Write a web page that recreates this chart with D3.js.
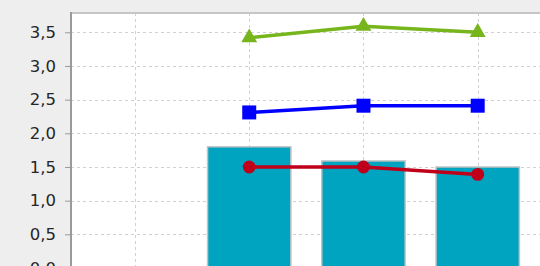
<!DOCTYPE html>
<html>
<head>
<meta charset="utf-8">
<script src="https://cdn.jsdelivr.net/npm/d3@7"></script>
<style>
  html, body { margin: 0; padding: 0; background: #eeeeee; }
  svg { display: block; }
</style>
</head>
<body>
<svg id="chart" width="540" height="266"></svg>
<script>
// ---- data ----
const categories = ["C0", "C1", "C2", "C3"];
const barValues   = [null, 1.80, 1.59, 1.50];
const greenValues = [null, 3.42, 3.59, 3.50];
const blueValues  = [null, 2.31, 2.41, 2.41];
const redValues   = [null, 1.50, 1.50, 1.39];
const yTicks = [0, 0.5, 1.0, 1.5, 2.0, 2.5, 3.0, 3.5];

// ---- layout ----
const W = 540, H = 266;
const plotLeft = 71, plotTop = 13;
const svg = d3.select("#chart");

const y = d3.scaleLinear().domain([0, 3.5]).range([268, 32.3]);
const x = d3.scalePoint().domain(categories).range([135, 477.7]);
const barW = x.step() * 0.73;

// plot background
svg.append("rect").attr("x", plotLeft).attr("y", plotTop)
  .attr("width", W - plotLeft).attr("height", H - plotTop).attr("fill", "#ffffff");

// gridlines
const grid = svg.append("g").attr("stroke", "#d0d0d0").attr("stroke-width", 1)
  .attr("stroke-dasharray", "3,3");
grid.selectAll("line.h").data(yTicks).join("line")
  .attr("x1", plotLeft).attr("x2", W)
  .attr("y1", d => Math.round(y(d)) + 0.5).attr("y2", d => Math.round(y(d)) + 0.5);
grid.selectAll("line.v").data(categories).join("line")
  .attr("x1", d => Math.round(x(d)) + 0.5).attr("x2", d => Math.round(x(d)) + 0.5)
  .attr("y1", plotTop).attr("y2", H);

// bars
const barData = categories.map((c, i) => ({c, v: barValues[i]})).filter(d => d.v != null);
svg.append("g").selectAll("rect").data(barData).join("rect")
  .attr("x", d => x(d.c) - barW / 2)
  .attr("y", d => y(d.v))
  .attr("width", barW)
  .attr("height", d => y(0) - y(d.v))
  .attr("fill", "#00a3c0")
  .attr("stroke", "#c4c4c4")
  .attr("stroke-width", 1.5);

// line series
function series(values, color, shape, size) {
  const pts = categories.map((c, i) => ({c, v: values[i]})).filter(d => d.v != null);
  const line = d3.line().x(d => x(d.c)).y(d => y(d.v));
  const g = svg.append("g");
  g.append("path").datum(pts).attr("d", line)
    .attr("fill", "none").attr("stroke", color).attr("stroke-width", 3.5)
    .attr("stroke-linejoin", "round");
  g.selectAll("path.m").data(pts).join("path")
    .attr("transform", d => `translate(${x(d.c)},${y(d.v)})`)
    .attr("d", d3.symbol().type(shape).size(size))
    .attr("fill", color);
}
series(redValues, "#c0001a", d3.symbolCircle, 130);
series(blueValues, "#0000ff", d3.symbolSquare, 196);
series(greenValues, "#76b51b", d3.symbolTriangle, 110);

// top frame line
svg.append("line").attr("x1", plotLeft).attr("x2", W)
  .attr("y1", plotTop).attr("y2", plotTop)
  .attr("stroke", "#c6c6c6").attr("stroke-width", 2);

// y axis
const fmt = d3.format(".1f");
const axis = d3.axisLeft(y).tickValues(yTicks)
  .tickFormat(d => fmt(d).replace(".", ","))
  .tickSizeInner(6).tickSizeOuter(0).tickPadding(9);
const ag = svg.append("g").attr("transform", `translate(${plotLeft},0)`).call(axis);
ag.select(".domain").remove();
ag.selectAll(".tick line").attr("stroke", "#999999");
ag.selectAll(".tick text").attr("fill", "#262626")
  .style("font-family", "'DejaVu Sans', sans-serif").style("font-size", "16.5px");
svg.append("line").attr("x1", plotLeft).attr("x2", plotLeft)
  .attr("y1", plotTop - 1).attr("y2", H)
  .attr("stroke", "#9a9a9a").attr("stroke-width", 2);
</script>
</body>
</html>
